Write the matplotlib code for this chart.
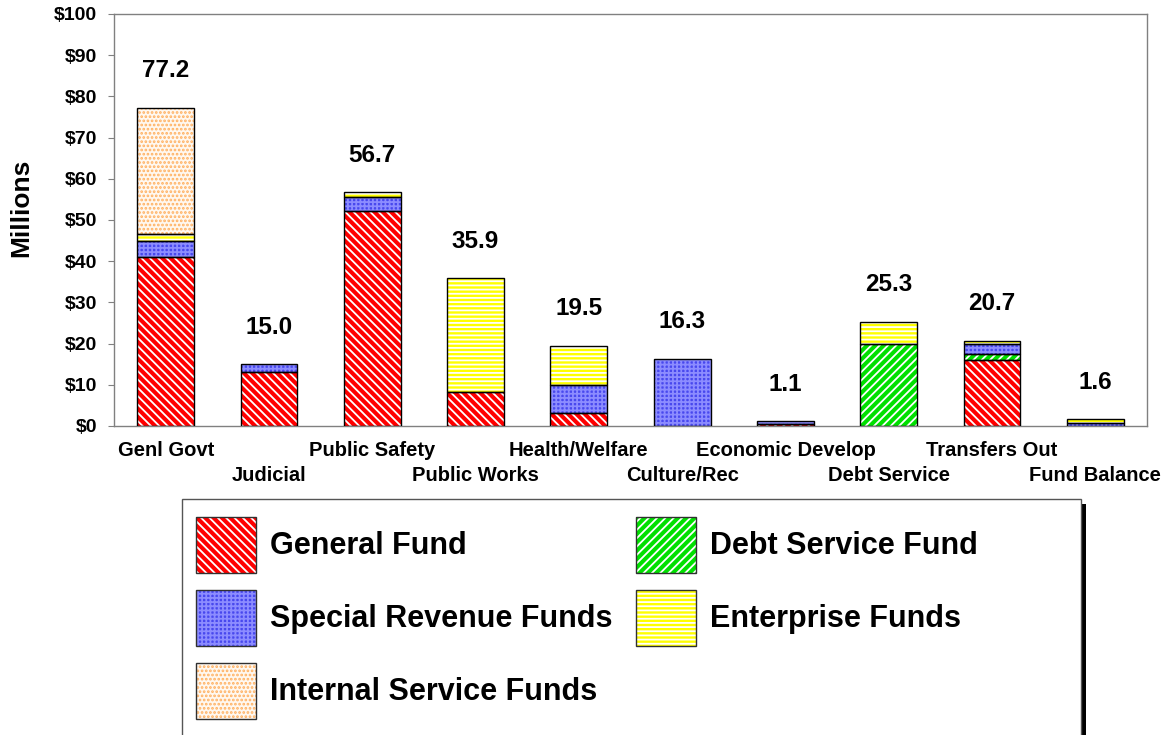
import matplotlib
matplotlib.use("Agg")
import matplotlib.pyplot as plt
import numpy as np
from matplotlib.patches import Patch, Rectangle

plt.rcParams["font.family"] = ["Liberation Sans", "DejaVu Sans"]
plt.rcParams["font.weight"] = "bold"
plt.rcParams["hatch.linewidth"] = 1.3

categories = ["Genl Govt", "Judicial", "Public Safety", "Public Works",
              "Health/Welfare", "Culture/Rec", "Economic Develop",
              "Debt Service", "Transfers Out", "Fund Balance"]

# millions of dollars, stacked bottom to top in this order
general_fund = [41.0, 13.0, 52.2, 8.2, 3.1, 0.0, 0.6, 0.0, 16.1, 0.0]
debt_service_fund = [0.0, 0.0, 0.0, 0.0, 0.0, 0.0, 0.0, 19.8, 1.4, 0.0]
special_revenue_funds = [3.8, 2.0, 3.4, 0.0, 6.8, 16.3, 0.5, 0.0, 2.4, 0.8]
enterprise_funds = [1.9, 0.0, 1.1, 27.7, 9.6, 0.0, 0.0, 5.5, 0.8, 0.8]
internal_service_funds = [30.5, 0.0, 0.0, 0.0, 0.0, 0.0, 0.0, 0.0, 0.0, 0.0]

y_ticks = list(range(0, 101, 10))

# label, values, face colour, hatch, hatch colour
funds = [
    ("General Fund", general_fund, "#ff0000", "\\\\\\\\", "white"),
    ("Debt Service Fund", debt_service_fund, "#00e000", "////", "white"),
    ("Special Revenue Funds", special_revenue_funds, "#4848ee", "++++", "#8c8cff"),
    ("Enterprise Funds", enterprise_funds, "#ffff00", "----", "white"),
    ("Internal Service Funds", internal_service_funds, "#fff8f0", "....", "#ffb060"),
]

W, H = 1169, 735
fig = plt.figure(figsize=(W / 100, H / 100), dpi=100)
ax = fig.add_axes([114 / W, 1 - 426 / H, (1147 - 114) / W, (426 - 14) / H])

x = np.arange(len(categories))
bottom = np.zeros(len(categories))
handles = {}
for label, vals, face, hatch, hcol in funds:
    vals = np.asarray(vals, dtype=float)
    m = vals > 0
    ax.bar(x[m], vals[m], 0.55, bottom=bottom[m], color=face,
           edgecolor=hcol, hatch=hatch, linewidth=0, zorder=2)
    ax.bar(x[m], vals[m], 0.55, bottom=bottom[m], facecolor="none",
           edgecolor="black", linewidth=1, zorder=3)
    bottom += vals
    handles[label] = (
        Patch(facecolor=face, edgecolor=hcol, hatch=hatch, linewidth=0),
        Patch(facecolor="none", edgecolor="#303030", linewidth=1),
    )

totals = bottom
for i, t in enumerate(totals):
    ax.annotate(f"{t:.1f}", xy=(i, t), xytext=(0, 22), textcoords="offset points",
                ha="center", va="baseline", fontsize=17.5, fontweight="bold")

# staggered category labels
for i, name in enumerate(categories):
    off = -21.6 if i % 2 == 0 else -39.6
    ax.annotate(name, xy=(i, 0), xycoords=("data", "axes fraction"),
                xytext=(0, off), textcoords="offset points",
                ha="center", va="baseline", fontsize=14.5, fontweight="bold")

ax.set_xlim(-0.5, len(categories) - 0.5)
ax.set_ylim(0, 100)
ax.set_xticks([])
ax.set_yticks(y_ticks)
ax.set_yticklabels([f"${v}" for v in y_ticks])
ax.tick_params(axis="y", length=4, color="#808080", labelsize=14, pad=8)
for sp in ax.spines.values():
    sp.set_color("#808080")
    sp.set_linewidth(1)

fig.text(21.7 / W, 1 - 208 / H, "Millions", rotation=90, ha="center",
         va="center", fontsize=19, fontweight="bold")

# legend frame with black drop shadow, running off the bottom edge
fig.add_artist(Rectangle((186.5 / W, -0.1), (1086 - 186.5) / W, 1 - 504 / H + 0.1,
                         transform=fig.transFigure, facecolor="black",
                         edgecolor="none", zorder=0))
fig.add_artist(Rectangle((181.5 / W, -0.1), (1081 - 181.5) / W, 1 - 499 / H + 0.1,
                         transform=fig.transFigure, facecolor="white",
                         edgecolor="#555555", linewidth=1, zorder=1))

order = ["General Fund", "Special Revenue Funds", "Internal Service Funds",
         "Debt Service Fund", "Enterprise Funds"]
fig.legend([handles[k] for k in order], order, loc="upper left",
           bbox_to_anchor=(196 / W, 1 - 517 / H), ncol=2, frameon=False,
           borderpad=0, borderaxespad=0, prop={"weight": "bold", "size": 22},
           handlelength=1.96, handleheight=2.44, labelspacing=0.556,
           handletextpad=0.46, columnspacing=0.78)

fig.savefig("out.png", dpi=100)
